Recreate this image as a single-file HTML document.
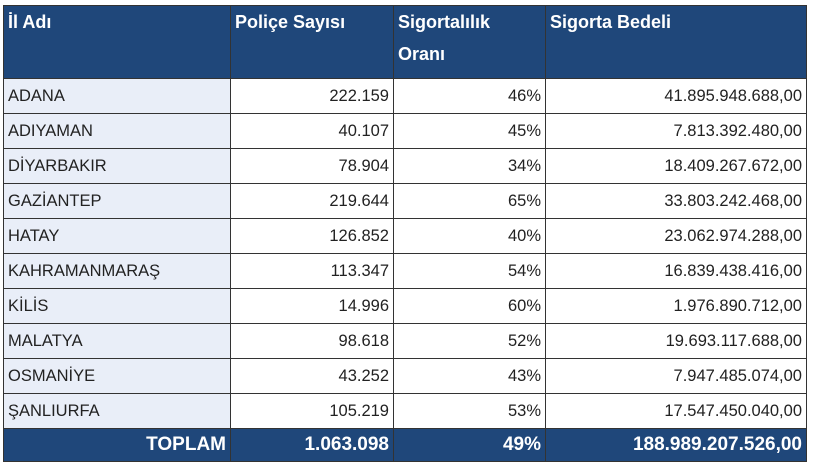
<!DOCTYPE html>
<html><head><meta charset="utf-8"><style>
body{margin:0;background:#fff;width:815px;height:472px;overflow:hidden;font-family:"Liberation Sans",sans-serif;}
table{position:absolute;left:3px;top:5px;border-collapse:collapse;table-layout:fixed;}
td{border:1px solid #333;height:34px;padding:0 4px;font-size:16.5px;color:#222;text-align:right;white-space:nowrap;}
td:first-child{text-align:left;background:#e9eef8;}
tr.h td{background:#1f477a;color:#fff;font-weight:bold;vertical-align:top;height:72px;text-align:left;font-size:18px;line-height:32px;padding-top:0;}
tr.t td{background:#1f477a;color:#fff;font-weight:bold;font-size:19px;height:32px;}
tr.t td:first-child{text-align:right;padding-right:4px;}
</style></head><body>
<table>
<colgroup><col style="width:227px"><col style="width:163px"><col style="width:152px"><col style="width:261px"></colgroup>
<tr class="h"><td>İl Adı</td><td>Poliçe Sayısı</td><td>Sigortalılık<br>Oranı</td><td>Sigorta Bedeli</td></tr>
<tr><td>ADANA</td><td>222.159</td><td>46%</td><td>41.895.948.688,00</td></tr>
<tr><td>ADIYAMAN</td><td>40.107</td><td>45%</td><td>7.813.392.480,00</td></tr>
<tr><td>DİYARBAKIR</td><td>78.904</td><td>34%</td><td>18.409.267.672,00</td></tr>
<tr><td>GAZİANTEP</td><td>219.644</td><td>65%</td><td>33.803.242.468,00</td></tr>
<tr><td>HATAY</td><td>126.852</td><td>40%</td><td>23.062.974.288,00</td></tr>
<tr><td>KAHRAMANMARAŞ</td><td>113.347</td><td>54%</td><td>16.839.438.416,00</td></tr>
<tr><td>KİLİS</td><td>14.996</td><td>60%</td><td>1.976.890.712,00</td></tr>
<tr><td>MALATYA</td><td>98.618</td><td>52%</td><td>19.693.117.688,00</td></tr>
<tr><td>OSMANİYE</td><td>43.252</td><td>43%</td><td>7.947.485.074,00</td></tr>
<tr><td>ŞANLIURFA</td><td>105.219</td><td>53%</td><td>17.547.450.040,00</td></tr>
<tr class="t"><td>TOPLAM</td><td>1.063.098</td><td>49%</td><td>188.989.207.526,00</td></tr>
</table>
</body></html>
